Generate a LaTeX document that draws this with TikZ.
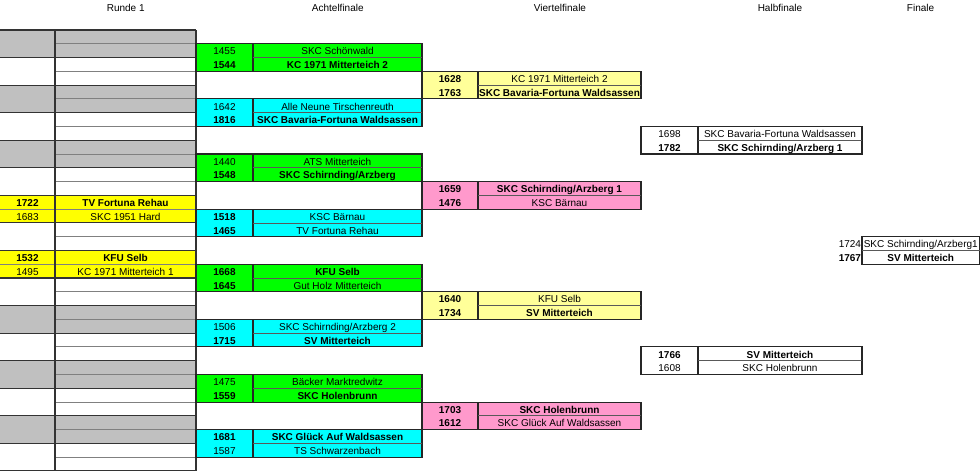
\documentclass[tikz,border=0pt]{standalone}
\usepackage{fontspec}
\setmainfont{Liberation Sans}
\usepackage{tikz}
\usetikzlibrary{positioning}
\definecolor{rgrey}{HTML}{C0C0C0}
\definecolor{ryellow}{HTML}{FFFF00}
\definecolor{agreen}{HTML}{00FF00}
\definecolor{acyan}{HTML}{00FFFF}
\definecolor{vyellow}{HTML}{FFFF99}
\definecolor{vpink}{HTML}{FF99CC}
\tikzstyle{cell} = [rectangle, draw=black!85, line width=1.1pt, minimum height=27.56pt, inner sep=0pt, outer sep=0pt, align=center, text height=24.88pt, text depth=2.68pt]
\tikzstyle{numbox} = [cell, minimum width=#1]
\tikzstyle{namebox} = [cell, minimum width=#1]
\tikzstyle{rowsep} = [draw=black!65, line width=0.8pt]
\tikzstyle{gridline} = [draw=black!50, line width=0.9pt]
\tikzstyle{darkline} = [draw=black!80, line width=1.1pt]
\tikzstyle{heading} = [anchor=base]

\begin{document}
\begin{tikzpicture}[x=1pt, y=-13.78pt, font=\fontsize{10pt}{13.78pt}\selectfont]
    \useasboundingbox (0pt,0pt) rectangle (980pt,-471pt);
    % round headings
    \node[heading] (hr1) at (125.7pt,-11.6pt) {Runde 1};
    \node[heading] (haf) at (337.8pt,-11.6pt) {Achtelfinale};
    \node[heading] (hvf) at (560pt,-11.6pt) {Viertelfinale};
    \node[heading] (hhf) at (780pt,-11.6pt) {Halbfinale};
    \node[heading] (hfi) at (920.6pt,-11.6pt) {Finale};

    \begin{scope}[yshift=-30pt]
    % Runde 1
    \foreach \r in {0,4,8,20,24,28} \fill[rgrey] (0,\r) rectangle (196,\r+2);
    \node[numbox=55pt, fill=ryellow, draw=none, anchor=north west] (r1an) at (0,12) {\textbf{1722}\\1683};
    \node[namebox=141pt, fill=ryellow, draw=none, right=0pt of r1an] (r1at) {\textbf{TV Fortuna Rehau}\\SKC 1951 Hard};
    \node[numbox=55pt, fill=ryellow, draw=none, anchor=north west] (r1bn) at (0,16) {\textbf{1532}\\1495};
    \node[namebox=141pt, fill=ryellow, draw=none, right=0pt of r1bn] (r1bt) {\textbf{KFU Selb}\\KC 1971 Mitterteich 1};
    \foreach \r in {1,3,...,31} \draw[gridline] (55,\r) -- (196,\r);
    \draw[gridline] (r1an.west) -- (r1an.east);
    \draw[gridline] (r1bn.west) -- (r1bn.east);
    \foreach \r in {0,2,...,32} \draw[darkline] (0,\r) -- (196,\r);
    \draw[darkline] (55,0) -- (55,32);
    \draw[darkline] (196,0) -- (196,32);

    % Achtelfinale
    \foreach \r in {3,11,19,27} \draw[darkline] (196,\r) rectangle (422,\r+2);
    \node[numbox=57pt, fill=agreen, anchor=north west] (af1n) at (196,1) {1455\\\textbf{1544}};
    \node[namebox=169pt, fill=agreen, right=0pt of af1n] (af1t) {SKC Schönwald\\\textbf{KC 1971 Mitterteich 2}};
    \node[numbox=57pt, fill=acyan, anchor=north west] (af2n) at (196,5) {1642\\\textbf{1816}};
    \node[namebox=169pt, fill=acyan, right=0pt of af2n] (af2t) {Alle Neune Tirschenreuth\\\textbf{SKC Bavaria-Fortuna Waldsassen}};
    \node[numbox=57pt, fill=agreen, anchor=north west] (af3n) at (196,9) {1440\\\textbf{1548}};
    \node[namebox=169pt, fill=agreen, right=0pt of af3n] (af3t) {ATS Mitterteich\\\textbf{SKC Schirnding/Arzberg}};
    \node[numbox=57pt, fill=acyan, anchor=north west] (af4n) at (196,13) {\textbf{1518}\\\textbf{1465}};
    \node[namebox=169pt, fill=acyan, right=0pt of af4n] (af4t) {KSC Bärnau\\TV Fortuna Rehau};
    \node[numbox=57pt, fill=agreen, anchor=north west] (af5n) at (196,17) {\textbf{1668}\\\textbf{1645}};
    \node[namebox=169pt, fill=agreen, right=0pt of af5n] (af5t) {\textbf{KFU Selb}\\Gut Holz Mitterteich};
    \node[numbox=57pt, fill=acyan, anchor=north west] (af6n) at (196,21) {1506\\\textbf{1715}};
    \node[namebox=169pt, fill=acyan, right=0pt of af6n] (af6t) {SKC Schirnding/Arzberg 2\\\textbf{SV Mitterteich}};
    \node[numbox=57pt, fill=agreen, anchor=north west] (af7n) at (196,25) {1475\\\textbf{1559}};
    \node[namebox=169pt, fill=agreen, right=0pt of af7n] (af7t) {Bäcker Marktredwitz\\\textbf{SKC Holenbrunn}};
    \node[numbox=57pt, fill=acyan, anchor=north west] (af8n) at (196,29) {\textbf{1681}\\1587};
    \node[namebox=169pt, fill=acyan, right=0pt of af8n] (af8t) {\textbf{SKC Glück Auf Waldsassen}\\TS Schwarzenbach};
    \foreach \m in {af1t,af2t,af3t,af4t,af5t,af6t,af7t,af8t} \draw[rowsep] (\m.west) -- (\m.east);

    % Viertelfinale
    \node[numbox=56pt, fill=vyellow, anchor=north west] (vf1n) at (422,3) {\textbf{1628}\\\textbf{1763}};
    \node[namebox=163pt, fill=vyellow, right=0pt of vf1n] (vf1t) {KC 1971 Mitterteich 2\\\makebox[163pt]{\textbf{SKC Bavaria-Fortuna Waldsassen}}};
    \node[numbox=56pt, fill=vpink, anchor=north west] (vf2n) at (422,11) {\textbf{1659}\\\textbf{1476}};
    \node[namebox=163pt, fill=vpink, right=0pt of vf2n] (vf2t) {\textbf{SKC Schirnding/Arzberg 1}\\KSC Bärnau};
    \node[numbox=56pt, fill=vyellow, anchor=north west] (vf3n) at (422,19) {\textbf{1640}\\\textbf{1734}};
    \node[namebox=163pt, fill=vyellow, right=0pt of vf3n] (vf3t) {KFU Selb\\\textbf{SV Mitterteich}};
    \node[numbox=56pt, fill=vpink, anchor=north west] (vf4n) at (422,27) {\textbf{1703}\\\textbf{1612}};
    \node[namebox=163pt, fill=vpink, right=0pt of vf4n] (vf4t) {\textbf{SKC Holenbrunn}\\SKC Glück Auf Waldsassen};
    \foreach \m in {vf1t,vf2t,vf3t,vf4t} \draw[rowsep] (\m.west) -- (\m.east);

    % Halbfinale
    \node[numbox=57pt, fill=white, anchor=north west] (hf1n) at (641,7) {1698\\\textbf{1782}};
    \node[namebox=164pt, fill=white, right=0pt of hf1n] (hf1t) {SKC Bavaria-Fortuna Waldsassen\\\textbf{SKC Schirnding/Arzberg 1}};
    \node[numbox=57pt, fill=white, anchor=north west] (hf2n) at (641,23) {\textbf{1766}\\1608};
    \node[namebox=164pt, fill=white, right=0pt of hf2n] (hf2t) {\textbf{SV Mitterteich}\\SKC Holenbrunn};
    \draw[rowsep] (hf1t.west) -- (hf1t.east);
    \draw[rowsep] (hf2t.west) -- (hf2t.east);

    % Finale
    \node[cell, draw=none, align=right, anchor=north east] (fin) at (861,15) {1724\\\textbf{1767}};
    \node[namebox=117.5pt, anchor=north west] (fit) at (862,15) {SKC Schirnding/Arzberg1\\\textbf{SV Mitterteich}};
    \draw[rowsep] (fit.west) -- (fit.east);
    \end{scope}
\end{tikzpicture}
\end{document}
